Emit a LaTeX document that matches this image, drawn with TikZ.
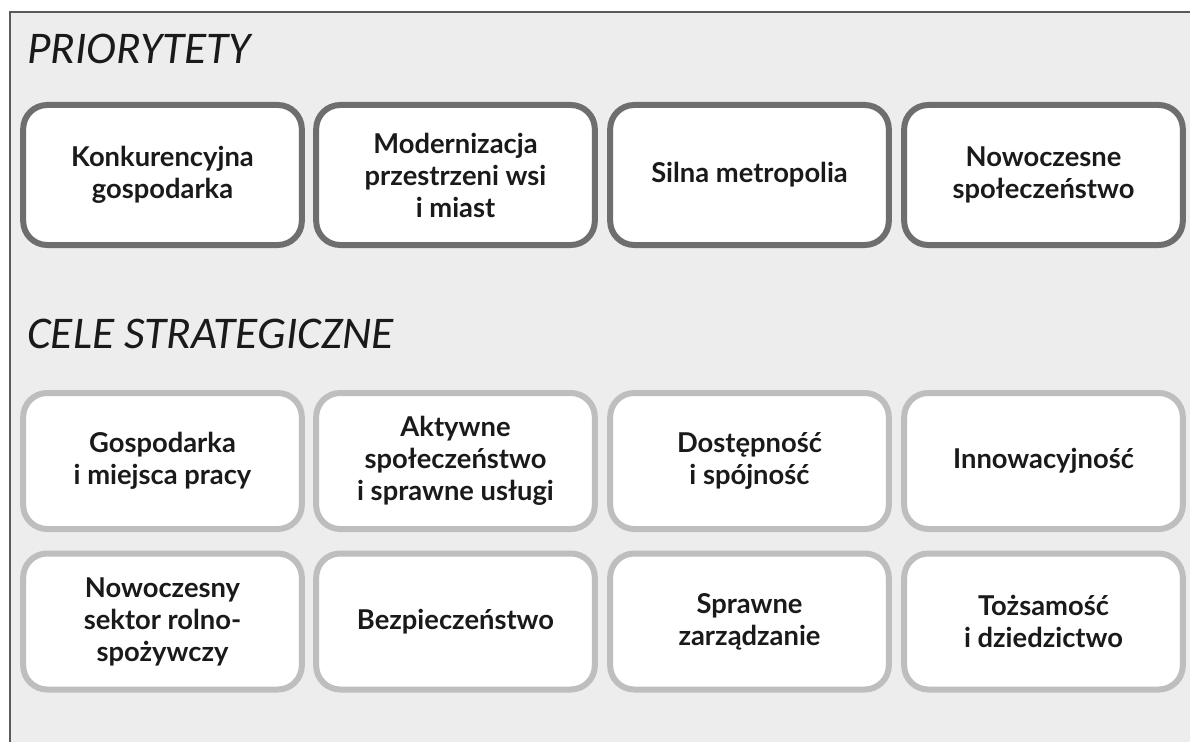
\documentclass[tikz,border=0pt]{standalone}
\usepackage{fontspec}
\setmainfont{Carlito}
\newfontfamily\boxfont{Lato}
\definecolor{bgray}{HTML}{EDEDED}
\definecolor{framec}{HTML}{5A5A5A}
\definecolor{prio}{HTML}{6E6E6E}
\definecolor{goal}{HTML}{BEBEBE}
\definecolor{txt}{HTML}{1A1A1A}
\tikzset{
  prbox/.style={draw=prio, line width=4.5pt, fill=white, rounded corners=18pt,
    minimum width=209pt, minimum height=105pt, align=center, inner sep=0pt,
    text=txt, font=\boxfont\bfseries\fontsize{20.5}{24}\selectfont},
  glbox/.style={prbox, draw=goal, minimum height=102pt},
  heading/.style={anchor=west, inner sep=0pt, text=txt, font=\itshape\fontsize{34}{40}\selectfont}
}
\begin{document}
\begin{tikzpicture}[x=0.75pt,y=-0.75pt]
\useasboundingbox (0,0) rectangle (1190,742);
\fill[white] (0,0) rectangle (1190,742);
\fill[bgray] (10,12) rectangle (1190,742);
\draw[framec, line width=1.6pt] (10,742) -- (10,12) -- (1190,12);
\node[heading] (h1) at (27,49) {PRIORYTETY};
\node[heading] (h2) at (27,334) {CELE STRATEGICZNE};
\node[prbox] (p1) at (162.5,175) {Konkurencyjna\\gospodarka};
\node[prbox] (p2) at (455.5,175) {Modernizacja\\przestrzeni wsi\\i miast};
\node[prbox] (p3) at (749.5,175) {Silna metropolia};
\node[prbox] (p4) at (1043.5,175) {Nowoczesne\\społeczeństwo};
\node[glbox] (g1) at (162.5,461) {Gospodarka\\i miejsca pracy};
\node[glbox] (g2) at (455.5,461) {Aktywne\\społeczeństwo\\i sprawne usługi};
\node[glbox] (g3) at (749.5,461) {Dostępność\\i spójność};
\node[glbox] (g4) at (1043.5,461) {Innowacyjność};
\node[glbox] (g5) at (162.5,621.5) {Nowoczesny\\sektor rolno-\\spożywczy};
\node[glbox] (g6) at (455.5,621.5) {Bezpieczeństwo};
\node[glbox] (g7) at (749.5,621.5) {Sprawne\\zarządzanie};
\node[glbox] (g8) at (1043.5,621.5) {Tożsamość\\i dziedzictwo};
\end{tikzpicture}
\end{document}
